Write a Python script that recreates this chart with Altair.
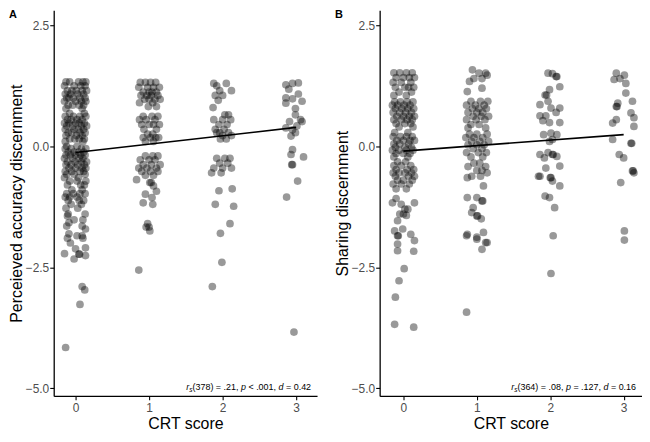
import altair as alt
import pandas as pd

# ---------------- data ----------------
# Each dict: discernment value -> jittered CRT positions of the points at that value
A_CRT0 = {
    1.33: [-0.13, -0.08, 0.04, 0.10, 0.14], 1.25: [-0.15, -0.02, 0.07, 0.13],
    1.15: [-0.11, -0.05, 0.01, 0.09, 0.15], 1.08: [-0.14, -0.07, 0.03, 0.11],
    1.00: [-0.12, -0.09, -0.03, 0.06, 0.13], 0.93: [-0.15, 0.00, 0.08, 0.14],
    0.85: [-0.10, -0.04, 0.05, 0.11], 0.78: [-0.13, 0.09], 0.68: [-0.08, 0.12],
    0.62: [-0.14, -0.03, 0.06, 0.14], 0.55: [-0.11, -0.06, 0.02, 0.09],
    0.48: [-0.15, -0.09, 0.00, 0.05, 0.12], 0.42: [-0.12, -0.04, 0.08, 0.15],
    0.35: [-0.14, -0.02, 0.04, 0.11], 0.28: [-0.10, -0.05, 0.06, 0.13],
    0.22: [-0.13, 0.01, 0.09], 0.15: [-0.08, -0.01, 0.05, 0.12], 0.10: [-0.14, 0.10],
    0.00: [-0.12, 0.02], -0.05: [-0.14, -0.06, 0.08, 0.14],
    -0.12: [-0.10, -0.02, 0.04, 0.11], -0.18: [-0.13, -0.07, 0.00, 0.07, 0.13],
    -0.25: [-0.15, -0.04, 0.05, 0.10], -0.32: [-0.11, -0.01, 0.08, 0.15],
    -0.38: [-0.13, -0.06, 0.03, 0.12], -0.45: [-0.09, 0.00, 0.09, 0.14],
    -0.52: [-0.14, -0.05, 0.06, 0.11], -0.58: [-0.12, -0.02, 0.13], -0.65: [-0.15, 0.04],
    -0.72: [-0.08, 0.02, 0.14], -0.80: [-0.11, 0.07, 0.12], -0.90: [-0.05, 0.09],
    -0.98: [-0.12, -0.03, 0.06, 0.13], -1.05: [-0.14, -0.08, 0.02],
    -1.12: [-0.10, 0.05, 0.11], -1.20: [-0.06, 0.08], -1.28: [-0.13, 0.03],
    -1.40: [-0.10, 0.13], -1.44: [-0.11], -1.52: [-0.02, 0.10], -1.58: [-0.09],
    -1.65: [0.09, -0.12], -1.71: [0.135], -1.81: [-0.09], -1.85: [0.02, 0.09],
    -1.90: [-0.11, 0.10], -2.00: [-0.07], -2.10: [0.135], -2.12: [0.0],
    -2.22: [-0.15], -2.23: [0.045, 0.055], -2.26: [0.135], -2.33: [-0.02],
    -2.90: [0.09], -2.97: [0.125], -3.27: [0.06], -4.16: [-0.135],
}
A_CRT1 = {
    1.32: [0.88, 0.95, 1.02, 1.09], 1.22: [0.86, 0.98, 1.06, 1.14],
    1.12: [0.92, 1.00, 1.04, 1.10], 1.05: [0.89, 0.97, 1.03, 1.12],
    0.97: [0.94, 1.00, 1.08, 1.15], 0.90: [0.87, 1.05], 0.82: [0.99, 1.10],
    0.62: [0.92, 1.04, 1.12], 0.55: [0.87, 0.96, 1.08], 0.45: [0.90, 1.00, 1.06, 1.14],
    0.35: [0.93, 1.10], 0.25: [0.98, 1.05], 0.18: [0.92, 1.02, 1.09, 1.13],
    0.10: [0.95, 1.06], -0.20: [0.95, 1.05, 1.12], -0.28: [0.88, 1.00, 1.08],
    -0.38: [0.92, 1.03, 1.15], -0.45: [0.86, 0.97, 1.10], -0.52: [0.90, 1.02, 1.12],
    -0.60: [0.95, 1.06], -0.69: [0.83], -0.75: [1.01, 1.03], -0.82: [1.06],
    -0.93: [1.10], -0.99: [0.95], -1.06: [1.04], -1.17: [0.92], -1.20: [1.05],
    -1.60: [0.98], -1.67: [0.96, 1.00], -1.75: [1.01], -2.56: [0.86],
}
A_CRT2 = {
    1.30: [1.88, 2.05], 1.25: [1.92], 1.15: [1.96, 2.12], 1.05: [1.90, 2.00],
    0.95: [1.94], 0.80: [1.87], 0.65: [2.03, 2.08], 0.55: [1.88, 2.00, 2.11],
    0.45: [1.95, 2.06], 0.35: [1.90, 2.02], 0.28: [1.92, 1.96, 2.08],
    0.22: [2.00, 2.12], 0.15: [1.97, 2.05], -0.25: [1.92, 2.03, 2.10],
    -0.35: [1.96, 2.07], -0.45: [1.88, 2.00, 2.12], -0.55: [1.85, 1.98],
    -0.88: [2.13], -0.92: [1.95], -1.20: [1.90], -1.24: [2.15], -1.60: [2.10],
    -1.80: [1.97], -2.40: [1.99], -2.90: [1.86],
}
A_CRT3 = {
    1.31: [3.03], 1.30: [2.95], 1.27: [2.86], 1.18: [2.90], 1.08: [3.03],
    1.00: [2.86], 0.98: [2.95], 0.93: [3.08], 0.89: [2.86], 0.78: [2.99],
    0.65: [2.99], 0.55: [3.06], 0.51: [2.91, 3.08], 0.42: [3.01], 0.38: [2.86],
    0.34: [2.95], 0.28: [2.99], 0.21: [2.93], -0.07: [2.95], -0.17: [2.93],
    -0.22: [3.10], -0.38: [2.94, 2.95], -0.72: [3.02], -1.05: [2.87], -3.84: [2.97],
}
B_CRT0 = {
    1.52: [-0.13, -0.05, 0.04, 0.12], 1.42: [-0.10, 0.00, 0.08, 0.15],
    1.32: [-0.14, -0.03, 0.10], 1.22: [-0.11, 0.02, 0.07, 0.14], 1.12: [-0.06, 0.11],
    1.05: [-0.13, 0.04], 0.92: [-0.12, -0.04, 0.05, 0.13],
    0.85: [-0.15, -0.08, 0.01, 0.09], 0.78: [-0.11, -0.02, 0.06, 0.14],
    0.70: [-0.14, -0.05, 0.03, 0.11], 0.62: [-0.09, 0.00, 0.08, 0.15],
    0.55: [-0.13, -0.03, 0.05, 0.12], 0.47: [-0.10, 0.02, 0.10], 0.40: [-0.06, 0.13],
    0.28: [-0.12, 0.06], 0.20: [-0.14, -0.04, 0.04, 0.12],
    0.12: [-0.09, 0.00, 0.09, 0.15], 0.05: [-0.13, -0.05, 0.07],
    -0.02: [-0.11, 0.02, 0.11], -0.08: [-0.15, -0.06, 0.04, 0.13],
    -0.15: [-0.10, 0.00, 0.09], -0.22: [-0.13, 0.06], -0.32: [-0.08, 0.03],
    -0.40: [-0.13, -0.03, 0.10], -0.48: [-0.10, 0.05, 0.14],
    -0.55: [-0.14, -0.06, 0.02, 0.11], -0.62: [-0.11, 0.07, 0.15],
    -0.70: [-0.08, 0.00, 0.12], -0.78: [-0.14, -0.03, 0.08], -0.88: [-0.10, 0.04],
    -1.08: [-0.10], -1.17: [-0.15, 0.15], -1.20: [-0.03], -1.30: [0.06, 0.02],
    -1.40: [-0.05, 0.00], -1.43: [0.04], -1.54: [-0.08], -1.71: [-0.01],
    -1.75: [-0.12], -1.82: [0.10], -1.85: [-0.08, -0.07], -1.95: [0.15],
    -2.02: [-0.08], -2.16: [-0.08], -2.17: [0.14], -2.53: [0.01], -2.78: [-0.06],
    -3.12: [-0.11], -3.68: [-0.12], -3.74: [0.14],
}
B_CRT1 = {
    1.58: [0.94], 1.51: [1.03, 1.12], 1.47: [1.14], 1.40: [0.96, 1.07], 1.34: [0.90],
    1.20: [1.07], 1.13: [0.87], 0.93: [0.92, 1.05, 1.15], 0.85: [0.86, 0.98, 1.10],
    0.78: [0.94, 1.03, 1.13], 0.70: [0.88, 1.00, 1.08], 0.62: [0.95, 1.06, 1.16],
    0.55: [0.86, 0.99, 1.11], 0.45: [0.92, 1.03], 0.38: [0.88, 1.12],
    0.25: [0.90, 1.00, 1.14], 0.18: [0.85, 0.96, 1.08], 0.10: [0.93, 1.04, 1.16],
    0.03: [0.88, 1.00, 1.10], -0.05: [0.95, 1.07], -0.13: [0.86, 1.02, 1.13],
    -0.22: [0.92, 1.08], -0.35: [0.96, 1.04], -0.42: [0.88, 1.12],
    -0.50: [1.00, 1.07], -0.55: [1.14], -0.62: [0.93, 1.05], -0.65: [0.87],
    -0.82: [1.09], -1.06: [0.87, 1.00], -1.13: [1.07, 1.08], -1.27: [0.95],
    -1.37: [0.93], -1.44: [1.00, 1.01], -1.50: [1.06], -1.78: [1.09], -1.82: [0.87],
    -1.85: [0.86], -1.88: [1.00], -1.92: [1.00], -1.99: [1.12, 1.14], -2.13: [1.07],
    -3.43: [0.86],
}
B_CRT2 = {
    1.51: [1.97], 1.50: [2.03], 1.44: [2.08, 2.09], 1.23: [2.13], 1.17: [1.99],
    1.06: [1.93, 1.95], 0.93: [1.97], 0.86: [1.86], 0.79: [2.01, 2.13], 0.70: [2.08],
    0.63: [1.86, 1.94], 0.53: [1.90], 0.49: [1.99, 2.13], 0.27: [2.01],
    0.24: [1.91, 2.09], 0.14: [2.03], 0.10: [1.99], -0.13: [1.97],
    -0.17: [1.86, 2.03, 2.04], -0.21: [2.09], -0.24: [1.92], -0.41: [2.13],
    -0.45: [1.94], -0.62: [1.86, 1.84], -0.65: [2.00, 2.01], -0.72: [2.03],
    -0.82: [2.13], -1.03: [1.93], -1.06: [1.99], -1.27: [2.06], -1.85: [2.04],
    -2.63: [2.01],
}
B_CRT3 = {
    1.51: [2.90], 1.47: [3.01], 1.40: [2.95], 1.38: [2.87], 1.30: [3.03], 1.10: [3.03],
    0.93: [3.12], 0.89: [2.92], 0.82: [2.90, 2.91], 0.69: [3.10], 0.59: [3.14],
    0.55: [2.90], 0.48: [2.85], 0.41: [3.14], 0.14: [2.85], 0.06: [3.10, 3.11],
    -0.17: [2.94], -0.24: [3.00], -0.51: [3.12, 3.13], -0.55: [3.14], -0.75: [2.96],
    -1.75: [3.01], -1.94: [3.01],
}

# fitted regression lines (end points)
LINE_X = [0, 3]
A_LINE_Y = [-0.13, 0.39]
B_LINE_Y = [-0.10, 0.24]

X_TICKS = [0, 1, 2, 3]
Y_TICKS = [-5.0, -2.5, 0.0, 2.5]
A_TITLE = "Perceieved accuracy discernment"
B_TITLE = "Sharing discernment"
X_TITLE = "CRT score"

A_STAT = [("r", "italic"), ("s", "sub"), ("(378) = .21, ", "normal"), ("p", "italic"),
          (" < .001, ", "normal"), ("d", "italic"), (" = 0.42", "normal")]
B_STAT = [("r", "italic"), ("s", "sub"), ("(364) = .08, ", "normal"), ("p", "italic"),
          (" = .127, ", "normal"), ("d", "italic"), (" = 0.16", "normal")]

# ---------------- layout / style ----------------
FONT = "Liberation Sans"
H = 388
WA, WB = 265, 264
SPACING = 17
XDOM_A = [-0.297, 3.284]
XDOM_B = [-0.324, 3.25]
YDOM = [-5.16, 2.81]
STAT_SIZE = 9
SUB_SIZE = 6.5

# Arial-compatible advance widths (em)
CW = {" ": .278, "=": .584, ".": .278, ",": .278, "<": .584, "(": .333, ")": .333,
      "r": .333, "s": .5, "p": .556, "d": .556}


def text_w(s, size):
    return sum(CW.get(c, .556) for c in s) * size


def flatten(cols):
    rows = []
    for col in cols:
        for yv, xs in col.items():
            for xv in xs:
                rows.append({"crt": xv, "value": yv})
    return pd.DataFrame(rows)


def panel(cols, line_y, ytitle, letter, stat, W, xdom):
    df = flatten(cols)
    xenc = alt.X("crt:Q", scale=alt.Scale(domain=xdom, nice=False, zero=False),
                 axis=alt.Axis(values=X_TICKS, format="d", title=X_TITLE,
                               labelPadding=3, titlePadding=2))
    yenc = alt.Y("value:Q", scale=alt.Scale(domain=YDOM, nice=False, zero=False),
                 axis=alt.Axis(values=Y_TICKS, format=".1f", title=ytitle,
                               labelPadding=1, titlePadding=1))
    pts = alt.Chart(df).mark_circle(size=60, color="black", opacity=0.4,
                                    strokeWidth=0).encode(x=xenc, y=yenc)
    line = alt.Chart(pd.DataFrame({"crt": LINE_X, "value": line_y})).mark_line(
        color="black", strokeWidth=1.6).encode(x="crt:Q", y="value:Q")
    layers = [pts, line]
    lab = alt.Chart(pd.DataFrame({"t": [letter]})).mark_text(
        font=FONT, fontSize=11, fontWeight="bold", align="left", baseline="top",
        color="black").encode(text="t:N", x=alt.value(-45), y=alt.value(-1))
    layers.append(lab)
    sizes = [SUB_SIZE if k == "sub" else STAT_SIZE for _, k in stat]
    widths = [text_w(s, z) for (s, _), z in zip(stat, sizes)]
    cur = W - 6 - sum(widths)
    ybase = H - 6
    for (s, k), w, z in zip(stat, widths, sizes):
        lead = len(s) - len(s.lstrip(" "))
        kw = dict(font=FONT, align="left", baseline="alphabetic", color="black",
                  fontSize=z, fontStyle="normal" if k == "normal" else "italic")
        yy = ybase + 2.5 if k == "sub" else ybase
        t = alt.Chart(pd.DataFrame({"t": [s.strip()]})).mark_text(**kw).encode(
            text="t:N", x=alt.value(cur + lead * CW[" "] * z), y=alt.value(yy))
        layers.append(t)
        cur += w
    return alt.layer(*layers).properties(width=W, height=H)


pa = panel([A_CRT0, A_CRT1, A_CRT2, A_CRT3], A_LINE_Y, A_TITLE, "A", A_STAT, WA, XDOM_A)
pb = panel([B_CRT0, B_CRT1, B_CRT2, B_CRT3], B_LINE_Y, B_TITLE, "B", B_STAT, WB, XDOM_B)

chart = alt.hconcat(pa, pb, spacing=SPACING).properties(padding=0).configure_view(
    stroke=None
).configure_axis(
    grid=False, domainColor="black", domainWidth=1.3, tickColor="black",
    tickWidth=1.1, tickSize=4, labelColor="#4d4d4d", labelFont=FONT,
    labelFontSize=12, titleFont=FONT, titleFontSize=16, titleFontWeight="normal",
    titleColor="black"
)

chart.save("out.html", embed_options={"renderer": "svg", "actions": False})
